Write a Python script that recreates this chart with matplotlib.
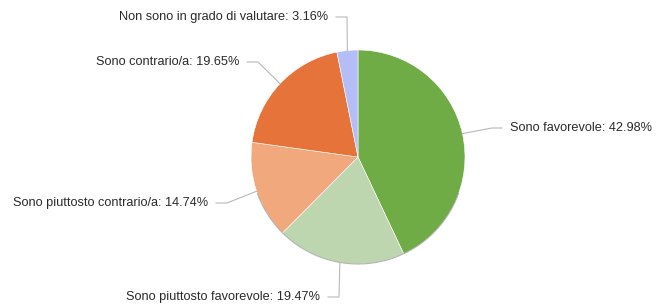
import numpy as np
import matplotlib
matplotlib.use("Agg")
import matplotlib.pyplot as plt

labels = ["Sono favorevole", "Sono piuttosto favorevole", "Sono piuttosto contrario/a",
          "Sono contrario/a", "Non sono in grado di valutare"]
values = [42.98, 19.47, 14.74, 19.65, 3.16]
colors = ["#6fac46", "#bdd6b0", "#f2a87d", "#e5733a", "#b5bdf7"]

W, H = 658, 307
fig = plt.figure(figsize=(W / 100, H / 100), dpi=100)
ax = fig.add_axes([0, 0, 1, 1])
ax.set_xlim(0, W)
ax.set_ylim(0, H)
ax.set_aspect("equal")
ax.axis("off")

cx, cy, r = 358, H - 157, 107
wedges, _ = ax.pie(values, colors=colors, startangle=90, counterclock=False,
                   center=(cx, cy), radius=r, frame=True,
                   wedgeprops=dict(linewidth=0.4, edgecolor="#ffffff"))
ax.set_xlim(0, W)
ax.set_ylim(0, H)
ax.axis("off")

# subtle shadow on the lower rim
theta = np.linspace(200, 340, 100)
ax.plot(cx + r * np.cos(np.radians(theta)), cy + r * np.sin(np.radians(theta)),
        color="#8a8a8a", lw=0.8, alpha=0.6, zorder=3)

# label layout: (elbow x, label y) in pixel coords from top, side
layout = [
    (492, 128, "right"),
    (339, 297, "left"),
    (227, 203, "left"),
    (258, 62, "left"),
    (347, 17, "left"),
]

for w, lab, val, (ex, ly, side) in zip(wedges, labels, values, layout):
    ang = np.radians((w.theta1 + w.theta2) / 2)
    ax_, ay_ = cx + r * np.cos(ang), cy + r * np.sin(ang)
    ly_ = H - ly
    if side == "right":
        tx = ex + 18
        ax.plot([ax_, ex, tx - 8], [ay_, ly_, ly_], color="#b8b8b8", lw=0.8, zorder=4)
        ax.text(tx, ly_, f"{lab}: {val:.2f}%", ha="left", va="center",
                fontsize=9.2, family="Liberation Sans", color="#2a2a2a")
    else:
        tx = ex - 19
        ax.plot([ax_, ex, tx + 8], [ay_, ly_, ly_], color="#b8b8b8", lw=0.8, zorder=4)
        ax.text(tx, ly_, f"{lab}: {val:.2f}%", ha="right", va="center",
                fontsize=9.2, family="Liberation Sans", color="#2a2a2a")

fig.savefig("out.png", dpi=100, facecolor="white")
